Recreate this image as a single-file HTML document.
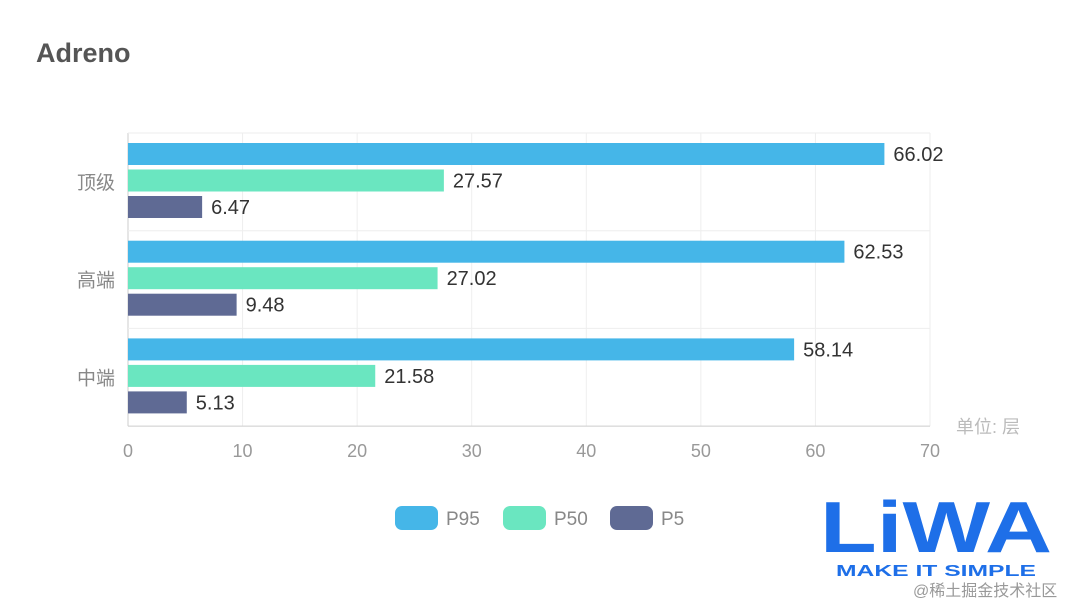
<!DOCTYPE html>
<html><head><meta charset="utf-8"><style>
body{margin:0;background:#fff;width:1080px;height:605px;overflow:hidden;font-family:"Liberation Sans","Noto Sans CJK SC",sans-serif}
</style></head><body>
<svg id="c" width="1080" height="605" xmlns="http://www.w3.org/2000/svg">
<text x="36" y="62" font-size="27" font-weight="bold" fill="#555">Adreno</text>
<text x="956" y="433" font-size="18" fill="#bbb" font-family="Liberation Sans,Noto Sans CJK SC,sans-serif">单位: 层</text>
<g>
<text x="820" y="552" font-size="72" font-weight="bold" fill="#1e6fe8" textLength="232" lengthAdjust="spacingAndGlyphs">LiWA</text>
<text x="836" y="576" font-size="16" font-weight="bold" fill="#1e6fe8" textLength="200" lengthAdjust="spacingAndGlyphs">MAKE IT SIMPLE</text>
<text x="913" y="596" font-size="16" fill="#999" font-family="Liberation Sans,Noto Sans CJK SC,sans-serif">@稀土掘金技术社区</text>
</g>
</svg>
<script>
const categories=['顶级','高端','中端'];
const seriesNames=['P95','P50','P5'];
const p95=[66.02,62.53,58.14];
const p50=[27.57,27.02,21.58];
const p5=[6.47,9.48,5.13];
const ticks=[0,10,20,30,40,50,60,70];
const svg=document.getElementById('c');
const NS='http://www.w3.org/2000/svg';
const x0=128,x1=930,yTop=133,band=97.7;
const xs=v=>x0+(v/70)*(x1-x0);
const colors=['#45b6e8','#6ae6c0','#5f6a94'];
const series=[p95,p50,p5];
function mk(t,a){const e=document.createElementNS(NS,t);for(const k in a)e.setAttribute(k,a[k]);svg.appendChild(e);return e;}
ticks.forEach((t,i)=>{
 const g=mk('line',{x1:xs(t),x2:xs(t),y1:yTop,y2:yTop+band*3,stroke:i==0?'#ccc':'#eee','stroke-width':1});
 
 
 const l=mk('text',{x:xs(t),y:457,'font-size':18,fill:'#999','text-anchor':'middle'});l.textContent=t;
 
 
});
for(let i=0;i<=3;i++){
 const h=mk('line',{x1:x0,x2:x1,y1:yTop+band*i,y2:yTop+band*i,stroke:i==3?'#ccc':'#eee'});
 
 
}
categories.forEach((c,ci)=>{
 const by=yTop+band*ci;
 const t=mk('text',{x:115,y:by+band/2+7,'font-size':19,fill:'#888','text-anchor':'end'});t.textContent=c;
 
 
 series.forEach((s,si)=>{
  const y=by+10+si*26.5;
  const r=mk('rect',{x:x0,y:y,width:xs(s[ci])-x0,height:22,fill:colors[si]});
  
  
  const v=mk('text',{x:xs(s[ci])+9,y:y+18,'font-size':20,fill:'#333'});v.textContent=s[ci].toFixed(2);
  
  
 });
});
const lx=[395,503,610];
seriesNames.forEach((n,i)=>{
 const r=mk('rect',{x:lx[i],y:506,width:43,height:24,rx:7,fill:colors[i]});
 
 
 const t=mk('text',{x:lx[i]+51,y:525,'font-size':19,fill:'#888'});t.textContent=n;
 
 
});
</script>
</body></html>
